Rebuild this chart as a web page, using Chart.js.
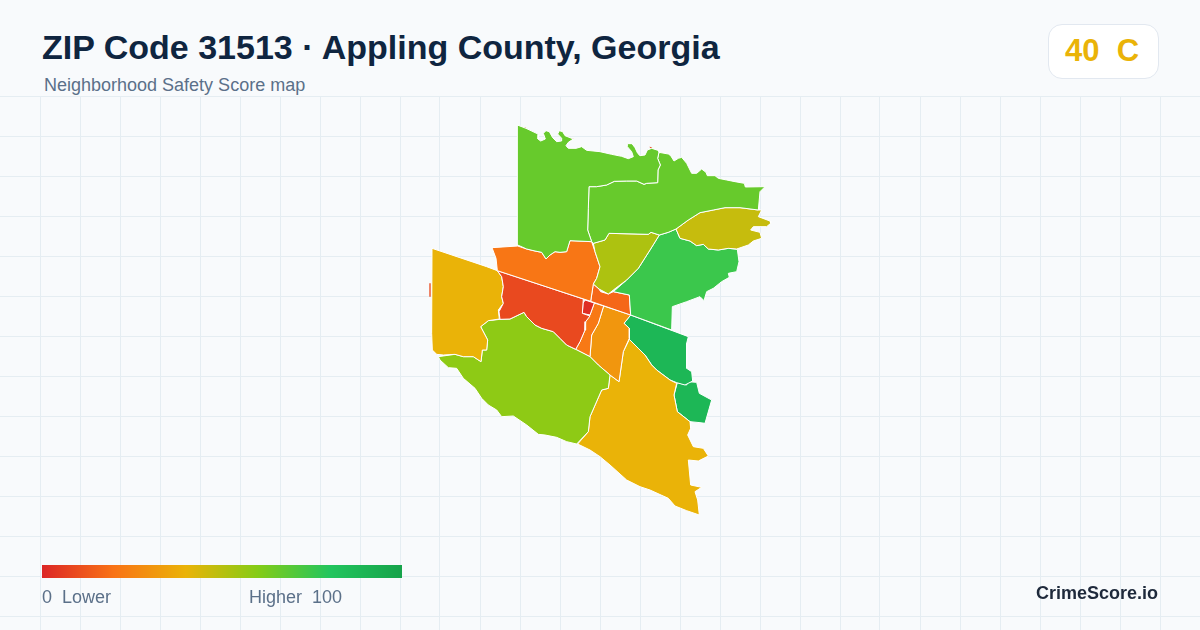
<!DOCTYPE html>
<html>
<head>
<meta charset="utf-8">
<title>ZIP Code 31513 · Appling County, Georgia</title>
<script src="https://cdn.jsdelivr.net/npm/chart.js@4"></script>
<style>
html,body{margin:0;padding:0;background:#f8fafc;}
body{width:1200px;height:630px;position:relative;overflow:hidden;font-family:"Liberation Sans",Arial,sans-serif;}
#wrap{position:absolute;left:0;top:96px;width:1200px;height:534px;}
.t{position:absolute;white-space:pre;line-height:1;}
#title{left:42px;top:30px;font-size:34px;font-weight:700;color:#0f2540;}
#sub{left:44px;top:76px;font-size:18px;color:#5b7089;}
#badge{position:absolute;left:1048px;top:24px;width:109px;height:53px;background:#fff;border:1px solid #e2e8f0;border-radius:14px;}
#score{left:1065px;top:35px;font-size:31px;font-weight:700;color:#eab308;}
#ramp{position:absolute;left:42px;top:565px;width:360px;height:13px;background:linear-gradient(90deg,#dc2626 0%,#f97316 20%,#eab308 40%,#84cc16 60%,#22c55e 80%,#16a34a 100%);}
#lo{left:42px;top:588px;font-size:18px;color:#5b7089;}
#hi{left:249px;top:588px;font-size:18px;color:#5b7089;}
#brand{right:42px;top:584px;font-size:18px;font-weight:700;color:#1e293b;}
</style>
</head>
<body>
<div id="wrap"><canvas id="map" width="1200" height="534"></canvas></div>
<div class="t" id="title">ZIP Code 31513 · Appling County, Georgia</div>
<div class="t" id="sub">Neighborhood Safety Score map</div>
<div id="badge"></div>
<div class="t" id="score">40  C</div>
<div id="ramp"></div>
<div class="t" id="lo">0  Lower</div>
<div class="t" id="hi">Higher  100</div>
<div class="t" id="brand">CrimeScore.io</div>
<script>
// Neighborhood boundaries in map units: [x, y, x, y, ...]
const northwest=[292,30,318,40,356,58,354,72,362,78,376,72,370,55,378,47,388,50,398,68,410,80,424,78,425,70,413,57,418,47,428,50,435,62,460,72,445,82,438,92,445,100,468,100,485,95,500,106,540,110,575,118,605,124,625,131,640,125,635,110,622,95,622,86,636,86,645,98,653,115,660,122,675,120,682,105,695,100,717,107,717,112,713,130,721,150,714,165,713,203,680,205,672,208,650,198,620,198,583,199,560,210,530,215,507,215,505,280,503,345,515,380,450,377,440,410,420,412,405,410,390,420,378,432,365,412,345,408,320,402,293,390,292,205];
const northeast=[717,112,745,117,752,122,762,138,775,130,785,127,800,145,815,175,830,175,845,162,858,172,862,182,885,182,895,190,920,195,945,200,973,205,976,216,1035,215,1020,230,1015,285,960,278,915,278,880,285,840,293,805,315,768,342,745,352,718,360,693,352,685,358,567,355,555,375,520,385,515,380,503,345,505,280,507,215,530,215,560,210,583,199,620,198,650,198,672,208,680,205,713,203,714,165,721,150,713,130];
const eastOlive=[768,342,805,315,840,293,880,285,915,278,960,278,1015,285,1025,285,1015,305,1050,318,1052,325,1040,335,1000,335,992,345,1020,352,1025,370,1000,378,985,390,950,402,925,400,895,405,865,402,850,388,830,392,810,378,780,370];
const centerOlive=[567,355,685,358,693,352,718,360,690,405,655,460,620,495,580,525,565,537,537,522,520,507,530,490,540,455,525,410,520,385,555,375];
const eastGreen=[718,360,745,352,768,342,780,370,810,378,830,392,850,388,865,402,895,405,925,400,952,403,957,440,950,470,925,475,928,487,905,500,880,520,860,530,852,557,840,545,800,560,757,575,755,645,632,600,628,540,580,530,620,495,655,460,690,405];
const northOrange=[216,398,293,393,320,402,345,408,365,412,378,432,390,420,405,410,420,412,440,410,450,377,515,380,525,410,540,455,530,490,520,507,512,559,232,467,228,430];
const townOrange=[520,507,537,522,542,530,565,537,580,530,628,540,632,600,512,559];
const westRed=[232,467,490,552,487,595,510,603,497,620,495,645,480,680,467,703,440,690,420,670,400,650,365,640,345,630,320,605,312,592,270,612,240,613,237,590,250,565,245,545,250,515,245,485];
const townRed=[495,555,523,564,510,600,487,595,489,565];
const westYellow=[36,400,200,455,232,467,245,485,250,515,245,545,250,565,235,585,238,612,205,617,182,635,203,675,200,705,187,705,183,740,160,725,130,725,105,718,70,720,50,718,37,705,35,655];
const southLime=[182,635,205,617,240,613,270,612,312,592,320,605,345,630,365,640,400,650,420,670,440,690,467,703,510,725,535,750,570,780,565,820,545,825,510,905,505,950,470,987,440,980,410,967,375,960,355,958,320,930,280,903,245,905,230,885,205,870,185,850,165,820,130,790,110,760,85,758,60,735,55,725,105,718,130,725,160,725,183,740,187,705,200,705,203,675];
const narrowOrange=[523,564,551,573,535,625,515,660,510,725,467,703,480,680,495,645,497,620,510,600];
const southOrange=[551,573,632,600,612,625,628,640,628,670,610,710,597,800,570,780,535,750,510,725,515,660,535,625];
const southYellow=[628,673,655,700,675,720,695,750,710,765,750,795,770,805,762,840,772,890,810,920,812,940,803,960,820,995,850,1000,865,1023,835,1038,805,1035,812,1110,845,1117,825,1130,833,1155,838,1200,800,1187,765,1173,745,1150,690,1125,660,1115,620,1095,570,1050,540,1025,510,1005,473,987,505,950,510,905,545,825,565,820,570,780,597,800,610,710];
const southeastGreen=[632,600,805,665,800,685,800,760,815,770,818,798,795,810,770,803,750,795,710,765,695,750,675,720,655,700,628,673,628,640,612,625];
const farSoutheast=[772,803,800,810,803,800,830,802,838,835,875,855,855,925,840,923,810,920,772,890,762,840];
const westSliver=[29,505,32,505,32,545,29,545,27,525];
const coastSpeckA=[688,95,697,97,692,100];
const coastSpeckB=[313,36,319,39,315,40];
const coastSpeckC=[452,69,461,71,456,73];

const regionNames=["northwest","northeast","eastOlive","centerOlive","eastGreen","northOrange","townOrange","westRed","townRed","westYellow","southLime","narrowOrange","southOrange","southYellow","southeastGreen","farSoutheast","westSliver","coastSpeckA","coastSpeckB","coastSpeckC"];
const regionShapes=[northwest,northeast,eastOlive,centerOlive,eastGreen,northOrange,townOrange,westRed,townRed,westYellow,southLime,narrowOrange,southOrange,southYellow,southeastGreen,farSoutheast,westSliver,coastSpeckA,coastSpeckB,coastSpeckC];
const regionScores=[66,66,47,52,75,21,17,9,2,40,58,22,31,40,88,88,9,9,9,9];
const unframedFrom=16;

const rampColors=[[220,38,38],[249,115,22],[234,179,8],[132,204,22],[34,197,94],[22,163,74]];
function scoreColor(s){
  const p=Math.min(4.9999,s/20),i=Math.floor(p),t=p-i,a=rampColors[i],b=rampColors[i+1];
  return "rgb("+a.map((v,k)=>Math.round(v+(b[k]-v)*t)).join(",")+")";
}
function toPoints(flat){
  const pts=[];
  for(let i=0;i<flat.length;i+=2)pts.push({x:flat[i],y:flat[i+1]});
  pts.push({x:flat[0],y:flat[1]});
  return pts;
}
const datasets=regionShapes.map((shape,i)=>({
  label:regionNames[i],
  data:toPoints(shape),
  showLine:true,
  tension:0,
  fill:"shape",
  backgroundColor:scoreColor(regionScores[i]),
  borderColor:i>=unframedFrom?scoreColor(regionScores[i]):"#ffffff",
  borderWidth:i>=unframedFrom?0:1,
  pointRadius:0,
  pointHoverRadius:0
}));
function gridTicks(start,end){
  const out=[];
  for(let v=start;v<=end;v+=120)out.push({value:v});
  return out;
}
new Chart(document.getElementById("map"),{
  type:"scatter",
  data:{datasets},
  options:{
    responsive:false,
    animation:false,
    events:[],
    layout:{padding:0},
    plugins:{legend:{display:false},tooltip:{enabled:false},title:{display:false}},
    scales:{
      x:{type:"linear",min:-1260,max:2340,
        afterBuildTicks:a=>{a.ticks=gridTicks(-1140,2340);},
        grid:{color:"#e5edf2",lineWidth:1,drawTicks:false},
        border:{display:false},ticks:{display:false}},
      y:{type:"linear",reverse:true,min:-57,max:1545,
        afterBuildTicks:a=>{a.ticks=gridTicks(-57,1545);},
        grid:{color:"#e5edf2",lineWidth:1,drawTicks:false},
        border:{display:false},ticks:{display:false}}
    }
  }
});
</script>
</body>
</html>
